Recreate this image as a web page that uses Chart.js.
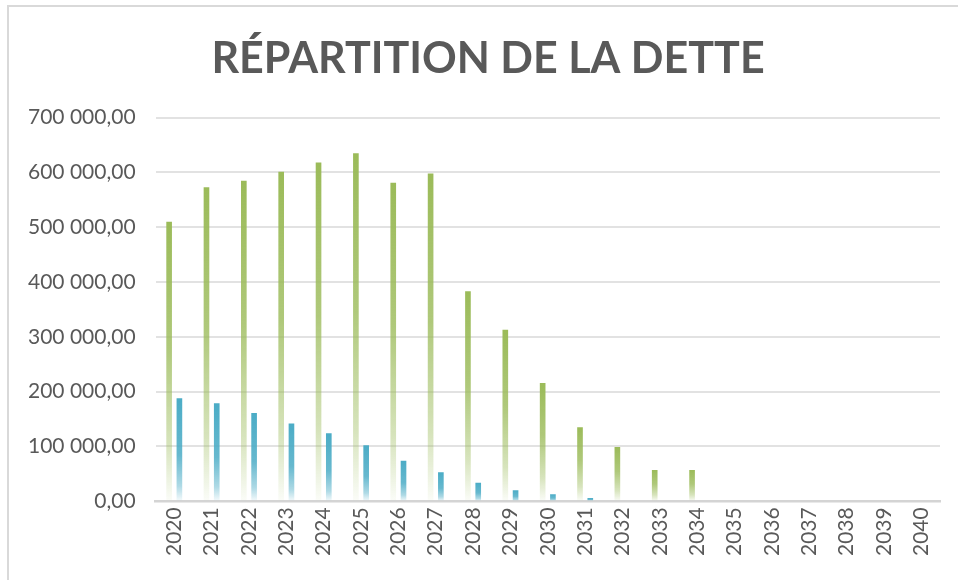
<!DOCTYPE html>
<html lang="fr">
<head>
<meta charset="utf-8">
<title>Répartition de la dette</title>
<script src="https://cdn.jsdelivr.net/npm/chart.js@4/dist/chart.umd.min.js"></script>
<style>
  html, body { margin: 0; padding: 0; background: #fff; }
  #wrap { position: relative; width: 958px; height: 580px; overflow: hidden; }
  #frame { position: absolute; left: 7px; top: 5px; width: 980px; height: 600px;
           border-left: 2px solid #d9d9d9; border-top: 2px solid #d9d9d9; box-sizing: border-box; }
  #myChart { position: absolute; left: 0; top: 0; }
</style>
</head>
<body>
<div id="wrap">
  <div id="frame"></div>
  <canvas id="myChart" width="958" height="580"></canvas>
</div>
<script>
var years = ['2020', '2021', '2022', '2023', '2024', '2025', '2026', '2027', '2028', '2029', '2030',
             '2031', '2032', '2033', '2034', '2035', '2036', '2037', '2038', '2039', '2040'];

// capital restant (vert) et intérêts (bleu)
var capital = [510000, 573000, 585000, 601000, 618000, 635000, 581000, 598000, 383000, 313000, 216000,
               135000, 99000, 57000, 57000, 0, 0, 0, 0, 0, 0];
var interets = [188000, 179000, 161000, 142000, 124000, 102000, 74000, 53000, 34000, 20000, 13000,
                6000, 0, 0, 0, 0, 0, 0, 0, 0, 0];

var yTickLabels = ['0,00', '100 000,00', '200 000,00', '300 000,00', '400 000,00',
                   '500 000,00', '600 000,00', '700 000,00'];

var gris = '#595959';
var police = 'Lato, "Open Sans", sans-serif';

// dégradé vertical propre à chaque barre : plein en haut, presque blanc en bas
function barFill(rgb, stops) {
  return function (c) {
    var chart = c.chart;
    if (!chart.chartArea || c.type !== 'data') return 'rgb(' + rgb + ')';
    var y = chart.scales.y;
    var top = y.getPixelForValue(c.raw);
    var base = y.getPixelForValue(0);
    if (!(base - top > 1)) return 'rgb(' + rgb + ')';
    var g = chart.ctx.createLinearGradient(0, top, 0, base);
    stops.forEach(function (s) { g.addColorStop(s[0], 'rgba(' + rgb + ',' + s[1] + ')'); });
    return g;
  };
}

// le titre est centré sur le cadre entier, pas sur la zone du graphique
var decalageTitre = {
  id: 'decalageTitre',
  afterLayout: function (chart) {
    var t = chart.titleBlock;
    if (t) { t.left += 14; t.right += 14; }
  }
};

var ctx = document.getElementById('myChart').getContext('2d');
var myChart = new Chart(ctx, {
  type: 'bar',
  data: {
    labels: years,
    datasets: [{
      label: 'Capital',
      data: capital,
      backgroundColor: barFill('155,187,89', [[0, 1], [0.45, 0.8], [0.8, 0.4], [1, 0.04]]),
      categoryPercentage: 0.55,
      barPercentage: 0.55
    },
    {
      label: 'Intérêts',
      data: interets,
      backgroundColor: barFill('75,172,198', [[0, 1], [0.55, 0.85], [0.85, 0.45], [1, 0.05]]),
      categoryPercentage: 0.55,
      barPercentage: 0.55
    }]
  },
  plugins: [decalageTitre],
  options: {
    responsive: false,
    animation: false,
    layout: { padding: { left: 8, right: 18, top: 33, bottom: 18 } },
    plugins: {
      legend: { display: false },
      tooltip: { enabled: false },
      title: {
        display: true,
        text: 'RÉPARTITION DE LA DETTE',
        color: gris,
        font: { family: police, size: 43, weight: 'bold' },
        padding: { top: 0, bottom: 33 }
      }
    },
    scales: {
      x: {
        grid: { display: false, drawTicks: false },
        border: { display: true, color: '#d4d4d4', width: 2.5 },
        ticks: {
          color: gris,
          font: { family: police, size: 21 },
          minRotation: 90,
          maxRotation: 90,
          autoSkip: false,
          padding: 6
        }
      },
      y: {
        min: 0,
        max: 700000,
        grid: { color: '#e2e2e2', lineWidth: 2, drawTicks: false },
        border: { display: false },
        ticks: {
          stepSize: 100000,
          color: gris,
          padding: 20,
          font: { family: police, size: 21 },
          callback: function (v, i) { return yTickLabels[i]; }
        }
      }
    }
  }
});
</script>
</body>
</html>
